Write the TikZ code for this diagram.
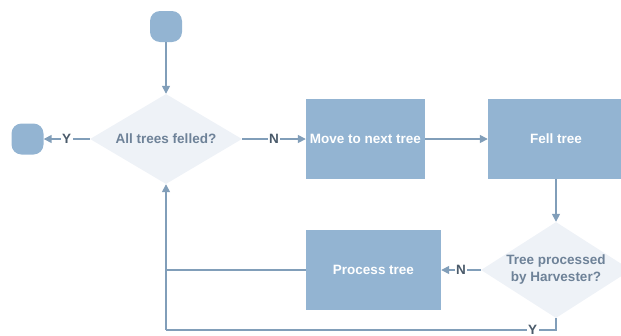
\documentclass[tikz,border=0pt]{standalone}
\usepackage{fontspec}
\setmainfont{Liberation Sans}
\usetikzlibrary{shapes.geometric,arrows.meta}

\definecolor{boxblue}{HTML}{93B4D2}
\definecolor{decfill}{HTML}{EEF2F7}
\definecolor{flowline}{HTML}{819EB9}
\definecolor{dectext}{HTML}{6E8298}
\definecolor{labtext}{HTML}{4A5A6A}

\tikzset{
  stepbox/.style={rectangle, fill=boxblue, text=white, inner sep=0pt,
    font=\fontsize{13.5}{17}\selectfont\bfseries},
  decision/.style={diamond, fill=decfill, text=dectext, inner sep=0pt, align=center,
    font=\fontsize{13.5}{17}\selectfont\bfseries},
  terminal/.style={rectangle, rounded corners=10pt, fill=boxblue,
    minimum width=32pt, minimum height=31pt},
  line/.style={draw=flowline, line width=1.5pt},
  flow/.style={line, -{Triangle[length=8pt,width=8pt]}},
  branch/.style={fill=white, text=labtext, inner sep=1.5pt,
    font=\fontsize{13.5}{16}\selectfont\bfseries},
}

\begin{document}
\begin{tikzpicture}[x=1pt, y=-1pt]
    \useasboundingbox (0,0) rectangle (621,335);

    \node[terminal] (start) at (166,26.5) {};
    \node[decision, aspect=1.69, minimum width=152pt, minimum height=90pt]
        (felled) at (166,139) {All trees felled?};
    \node[terminal] (stop) at (27.5,139) {};
    \node[stepbox, minimum width=119pt, minimum height=80pt]
        (move) at (365.5,139) {Move to next tree};
    \node[stepbox, minimum width=136pt, minimum height=80pt]
        (fell) at (556,139) {Fell tree};
    \node[decision, aspect=1.56, minimum width=150pt, minimum height=96pt]
        (harvester) at (556,270) {Tree processed\\by Harvester?};
    \node[stepbox, minimum width=135pt, minimum height=80pt]
        (process) at (373.5,270) {Process tree};
    \coordinate (loopcorner) at (166,330);

    % main flow
    \draw[flow] (start) -- (felled);
    \draw[flow] (felled) -- node[branch] {Y} (stop);
    \draw[flow] (felled) -- node[branch] {N} (move);
    \draw[flow] (move) -- (fell);
    \draw[flow] (fell) -- (harvester);
    \draw[flow] (harvester) -- node[branch] {N} (process);

    % loop back to the first decision
    \draw[line] (harvester.south) |- node[branch, pos=0.53] {Y} (loopcorner);
    \draw[flow] (loopcorner) -- (felled.south);
    \draw[line] (process.west) -- (process.west -| loopcorner);
\end{tikzpicture}
\end{document}
